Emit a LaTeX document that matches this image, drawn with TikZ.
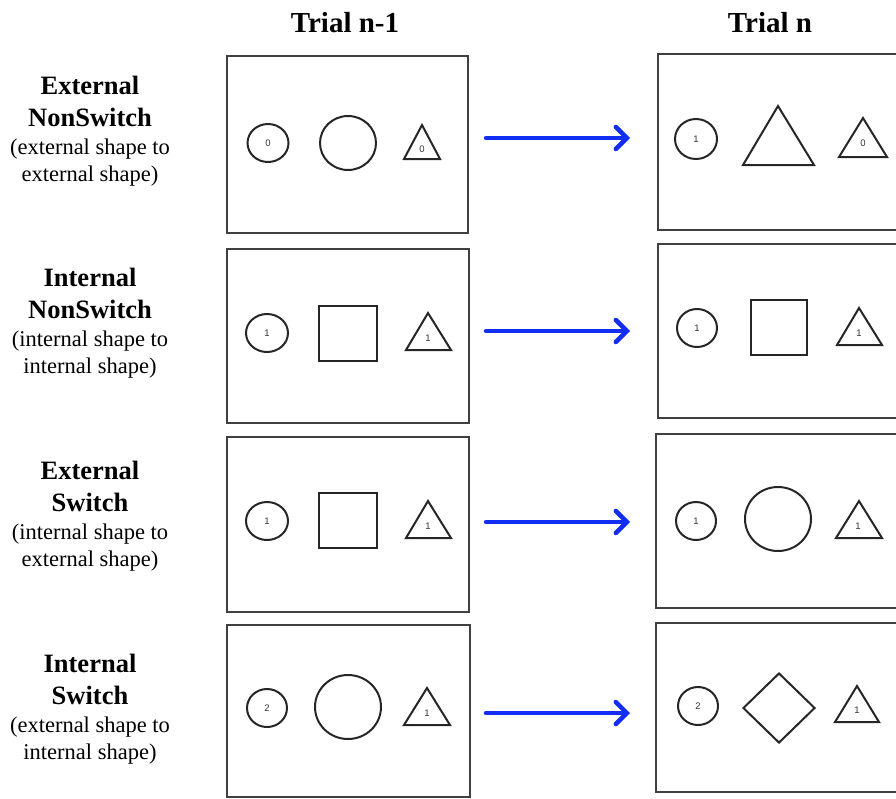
\documentclass[tikz,border=0pt]{standalone}
\usepackage{fontspec}
\setmainfont{Liberation Serif}
\newfontfamily\numfont{Liberation Sans}
\usetikzlibrary{shapes.geometric, arrows.meta}
\definecolor{flowblue}{RGB}{20,45,245}

\begin{document}
\begin{tikzpicture}[x=1pt, y=-1pt,
    frame/.style={draw=black!75, line width=1.3pt},
    fig/.style={draw=black!85, line width=2pt, inner sep=0pt},
    dot/.style={fig, ellipse, font=\numfont\fontsize{9.5}{10}\selectfont, text=black!80},
    num/.style={inner sep=0pt, font=\numfont\fontsize{9.5}{10}\selectfont, text=black!80},
    head/.style={anchor=base, font=\bfseries\fontsize{29}{34}\selectfont},
    title/.style={anchor=base, font=\bfseries\fontsize{26.5}{32}\selectfont},
    note/.style={anchor=base, font=\fontsize{22.5}{27}\selectfont},
    flow/.style={draw=flowblue, line width=4.5pt, line cap=round,
        -{Straight Barb[length=11pt, width=22pt, line cap=round]}}]
    \useasboundingbox (0,0) rectangle (896,798);
    \clip (0,0) rectangle (896,798);

    % Column heads
    \node[head] (hprev) at (345,32) {Trial n-1};
    \node[head] (hcur) at (770,32) {Trial n};

    % Row 1: External NonSwitch
    \node[title] (t1a) at (90,94) {External};
    \node[title] (t1b) at (90,126.5) {NonSwitch};
    \node[note] (n1a) at (90,154.5) {(external shape to};
    \node[note] (n1b) at (90,181) {external shape)};
    \draw[frame] (227,56) rectangle (468,233);
    \node[dot, minimum width=41, minimum height=38] (c1) at (268,143) {0};
    \node[fig, ellipse, minimum width=56, minimum height=54] (o1) at (348,143) {};
    \draw[fig] (422,125) -- (440,159) -- (404,159) -- cycle;
    \node[num] (k1) at (422,149) {0};
    \draw[frame] (658,54) rectangle (899,230);
    \node[dot, minimum width=42, minimum height=40] (d1) at (696,139) {1};
    \draw[fig] (778,106) -- (814,165) -- (743,165) -- cycle;
    \draw[fig] (863,118) -- (887,157) -- (839,157) -- cycle;
    \node[num] (m1) at (863,143) {0};
    \coordinate (s1) at (486,138);
    \coordinate (e1) at (630,138);
    \draw[flow] (s1) -- (e1);

    % Row 2: Internal NonSwitch
    \node[title] (t2a) at (90,286) {Internal};
    \node[title] (t2b) at (90,318.5) {NonSwitch};
    \node[note] (n2a) at (90,346.5) {(internal shape to};
    \node[note] (n2b) at (90,373) {internal shape)};
    \draw[frame] (227,249) rectangle (469,423);
    \node[dot, minimum width=42, minimum height=38] (c2) at (267,333) {1};
    \node[fig, minimum width=58, minimum height=55] (q2) at (348,333.5) {};
    \draw[fig] (428,313) -- (451,350) -- (406,350) -- cycle;
    \node[num] (k2) at (428,338) {1};
    \draw[frame] (658,244) rectangle (899,418);
    \node[dot, minimum width=40, minimum height=38] (d2) at (697,328) {1};
    \node[fig, minimum width=56, minimum height=55] (r2) at (779,327.5) {};
    \draw[fig] (859,308) -- (882,345) -- (837,345) -- cycle;
    \node[num] (m2) at (859,333) {1};
    \coordinate (s2) at (486,331);
    \coordinate (e2) at (630,331);
    \draw[flow] (s2) -- (e2);

    % Row 3: External Switch
    \node[title] (t3a) at (90,479) {External};
    \node[title] (t3b) at (90,511.5) {Switch};
    \node[note] (n3a) at (90,539.5) {(internal shape to};
    \node[note] (n3b) at (90,566) {external shape)};
    \draw[frame] (227,437) rectangle (469,612);
    \node[dot, minimum width=42, minimum height=38] (c3) at (267,521) {1};
    \node[fig, minimum width=58, minimum height=55] (q3) at (348,520.5) {};
    \draw[fig] (428,501) -- (451,538) -- (406,538) -- cycle;
    \node[num] (k3) at (428,526) {1};
    \draw[frame] (656,434) rectangle (899,608);
    \node[dot, minimum width=40, minimum height=38] (d3) at (696,521) {1};
    \node[fig, ellipse, minimum width=66, minimum height=64] (o3) at (778,519) {};
    \draw[fig] (859,501) -- (882,538) -- (836,538) -- cycle;
    \node[num] (m3) at (858,526) {1};
    \coordinate (s3) at (486,522);
    \coordinate (e3) at (630,522);
    \draw[flow] (s3) -- (e3);

    % Row 4: Internal Switch
    \node[title] (t4a) at (90,672) {Internal};
    \node[title] (t4b) at (90,704.5) {Switch};
    \node[note] (n4a) at (90,732.5) {(external shape to};
    \node[note] (n4b) at (90,759) {internal shape)};
    \draw[frame] (227,625) rectangle (470,797);
    \node[dot, minimum width=40, minimum height=38] (c4) at (267,708) {2};
    \node[fig, ellipse, minimum width=66, minimum height=64] (o4) at (348,707) {};
    \draw[fig] (427,688) -- (450,725) -- (404,725) -- cycle;
    \node[num] (k4) at (427,713) {1};
    \draw[frame] (656,623) rectangle (899,792);
    \node[dot, minimum width=40, minimum height=38] (d4) at (698,706) {2};
    \node[fig, diamond, minimum width=72, minimum height=70] (g4) at (779,708) {};
    \draw[fig] (857,686) -- (879,722) -- (835,722) -- cycle;
    \node[num] (m4) at (857,710) {1};
    \coordinate (s4) at (486,713);
    \coordinate (e4) at (630,713);
    \draw[flow] (s4) -- (e4);
\end{tikzpicture}
\end{document}
